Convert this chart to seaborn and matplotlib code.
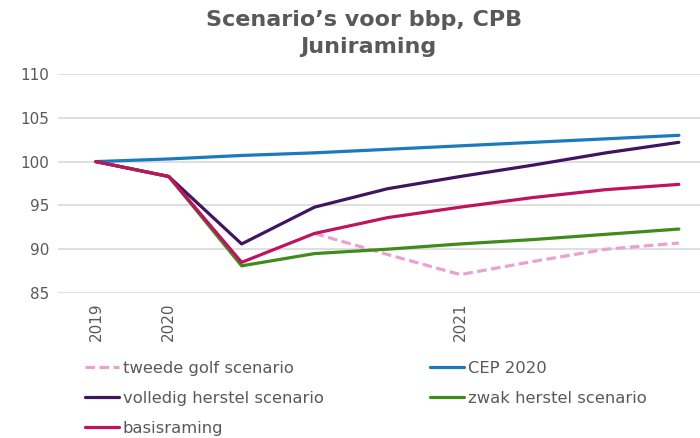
import matplotlib
matplotlib.use("Agg")
import matplotlib.pyplot as plt
import numpy as np
import pandas as pd
import seaborn as sns

# kwartalen (Q4 2019 t/m Q4 2021)
kwartaal = [0, 1, 2, 3, 4, 5, 6, 7, 8]
tick_pos = [0, 1, 5]
tick_labels = ["2019", "2020", "2021"]

cep_2020 = [100.0, 100.3, 100.7, 101.0, 101.4, 101.8, 102.2, 102.6, 103.0]
volledig_herstel = [100.0, 98.3, 90.6, 94.8, 96.9, 98.3, 99.6, 101.0, 102.2]
zwak_herstel = [100.0, 98.3, 88.1, 89.5, 90.0, 90.6, 91.1, 91.7, 92.3]
basisraming = [100.0, 98.3, 88.5, 91.8, 93.6, 94.8, 95.9, 96.8, 97.4]
tweede_golf = [np.nan, np.nan, np.nan, 91.8, 89.4, 87.1, 88.6, 90.0, 90.7]

kleuren = {
    "tweede golf scenario": "#e9a1d3",
    "CEP 2020": "#1a7abf",
    "volledig herstel scenario": "#3f1560",
    "zwak herstel scenario": "#3f8b1c",
    "basisraming": "#c0135f",
}

df = pd.DataFrame({
    "kwartaal": kwartaal,
    "CEP 2020": cep_2020,
    "tweede golf scenario": tweede_golf,
    "volledig herstel scenario": volledig_herstel,
    "zwak herstel scenario": zwak_herstel,
    "basisraming": basisraming,
})

sns.set_style("white")
plt.rcParams["font.family"] = ["DejaVu Sans"]
tekstkleur = "#595959"

fig = plt.figure(figsize=(7, 4.38), dpi=100)
ax = fig.add_axes([58 / 700, 1 - 293 / 438, 642 / 700, 219 / 438])

# tekenvolgorde: basisraming bovenop
volgorde = ["CEP 2020", "tweede golf scenario", "volledig herstel scenario",
            "zwak herstel scenario", "basisraming"]
lijnen = {}
for naam in volgorde:
    sns.lineplot(data=df, x="kwartaal", y=naam, ax=ax, color=kleuren[naam],
                 linewidth=2.3, label=naam, legend=False)
    lijnen[naam] = ax.lines[-1]
lijnen["tweede golf scenario"].set_dashes([3, 1.4])

ax.set_xlim(-0.52, 8.29)
ax.set_ylim(85, 110)
ax.set_yticks([85, 90, 95, 100, 105, 110])
ax.yaxis.grid(True, color="#d9d9d9", linewidth=1.2)
ax.set_axisbelow(True)
for s in ax.spines.values():
    s.set_visible(False)
ax.set_xticks(tick_pos)
ax.set_xticklabels(tick_labels, rotation=90, va="top")
ax.tick_params(axis="both", length=0, labelsize=11, colors=tekstkleur)
ax.tick_params(axis="y", pad=6)
ax.tick_params(axis="x", pad=7)
ax.set_xlabel("")
ax.set_ylabel("")

fig.text(364 / 700, 1 - 20 / 438, "Scenario\u2019s voor bbp, CPB", ha="center",
         va="center", fontsize=16, fontweight="bold", color=tekstkleur)
fig.text(368 / 700, 1 - 47 / 438, "Juniraming", ha="center",
         va="center", fontsize=16, fontweight="bold", color=tekstkleur)

leg_kwargs = dict(frameon=False, fontsize=11.8, handlelength=2.1,
                  handletextpad=0.2, labelspacing=0.9, borderaxespad=0,
                  borderpad=0, labelcolor=tekstkleur)
col1 = ["tweede golf scenario", "volledig herstel scenario", "basisraming"]
col2 = ["CEP 2020", "zwak herstel scenario"]
leg1 = fig.legend([lijnen[n] for n in col1], col1, loc="upper left",
                  bbox_to_anchor=(85 / 700, 1 - 361 / 438), **leg_kwargs)
leg2 = fig.legend([lijnen[n] for n in col2], col2, loc="upper left",
                  bbox_to_anchor=(430 / 700, 1 - 361 / 438), **leg_kwargs)

fig.savefig("out.png", dpi=100, facecolor="white")
